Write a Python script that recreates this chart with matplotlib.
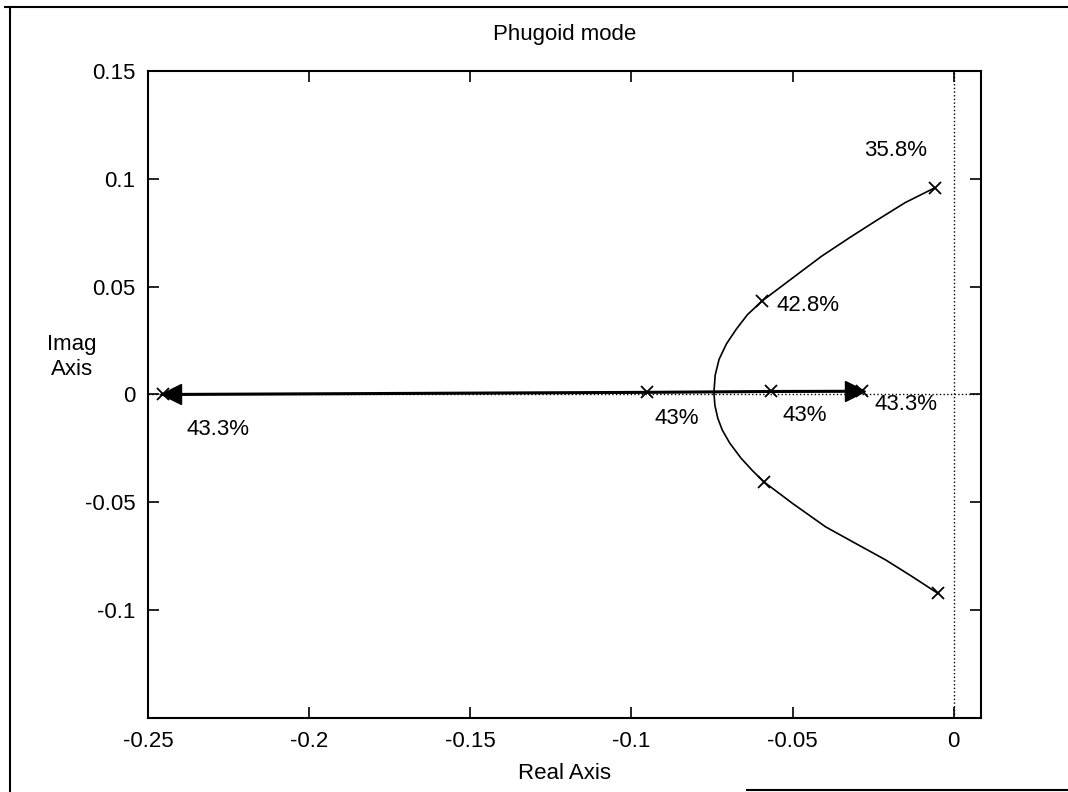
import matplotlib.pyplot as plt
from matplotlib.lines import Line2D

plt.rcParams['font.family'] = ['Liberation Sans', 'DejaVu Sans']

# upper branch of the locus
up_x = [-0.0059, -0.0150, -0.0232, -0.0320, -0.0409, -0.0500, -0.0595, -0.0640,
        -0.0675, -0.0705, -0.0728, -0.0740, -0.0744]
up_y = [0.0958, 0.0890, 0.0814, 0.0730, 0.0642, 0.0540, 0.0433, 0.0370,
        0.0302, 0.0235, 0.0163, 0.0090, 0.0010]
# lower branch
lo_x = [-0.0744, -0.0741, -0.0732, -0.0718, -0.0695, -0.0660, -0.0625, -0.0589,
        -0.0500, -0.0397, -0.0300, -0.0211, -0.0130, -0.0050]
lo_y = [0.0010, -0.0050, -0.0110, -0.0165, -0.0225, -0.0295, -0.0352, -0.0405,
        -0.0505, -0.0614, -0.0694, -0.0767, -0.0843, -0.0921]
# real-axis branch
ra_x = [-0.2454, -0.0951, -0.0567, -0.0285]
ra_y = [0.0000, 0.0010, 0.0014, 0.0015]

# marked poles and their labels
pole_x = [-0.0059, -0.0595, -0.0589, -0.0050, -0.0951, -0.0567, -0.0285, -0.2454]
pole_y = [0.0958, 0.0433, -0.0405, -0.0921, 0.0010, 0.0014, 0.0015, 0.0000]
lab_text = ['35.8%', '42.8%', '43%', '43%', '43.3%', '43.3%']
lab_x = [-0.0180, -0.0551, -0.0859, -0.0462, -0.0245, -0.2380]
lab_y = [0.1130, 0.0414, -0.0112, -0.0098, -0.0047, -0.0163]
lab_ha = ['center', 'left', 'center', 'center', 'left', 'left']

fig = plt.figure(figsize=(10.68, 7.92), dpi=100)
ax = fig.add_axes([0.1386, 0.0934, 0.7800, 0.8170])

ax.axvline(0, color='k', ls=':', lw=1)
ax.axhline(0, color='k', ls=':', lw=1)
ax.plot(up_x, up_y, color='k', lw=1.2)
ax.plot(lo_x, lo_y, color='k', lw=1.2)
ax.plot(ra_x, ra_y, color='k', lw=2.2)
ax.plot(pole_x, pole_y, 'x', color='k', ms=8, mew=1.3)
# direction arrows
ax.plot([-0.0307], [0.0015], '>', color='k', ms=15)
ax.plot([-0.2428], [0.0000], '<', color='k', ms=15)

for t, x, y, ha in zip(lab_text, lab_x, lab_y, lab_ha):
    ax.text(x, y, t, ha=ha, va='center', fontsize=16)

ax.set_xlim(-0.25, 0.0085)
ax.set_ylim(-0.15, 0.15)
ax.set_xticks([-0.25, -0.2, -0.15, -0.1, -0.05, 0])
ax.set_xticklabels(['-0.25', '-0.2', '-0.15', '-0.1', '-0.05', '0'])
ax.set_yticks([-0.1, -0.05, 0, 0.05, 0.1, 0.15])
ax.set_yticklabels(['-0.1', '-0.05', '0', '0.05', '0.1', '0.15'])
ax.tick_params(direction='in', length=8, width=1.2, top=True, right=True,
               labelsize=16, pad=9)
for s in ax.spines.values():
    s.set_linewidth(1.5)

ax.set_title('Phugoid mode', fontsize=16, pad=22)
ax.set_xlabel('Real Axis', fontsize=16, labelpad=8)
fig.text(0.067, 0.549, 'Imag\nAxis', ha='center', va='center', fontsize=16,
         linespacing=1.25)

# scanned page frame
fig.add_artist(Line2D([0.005, 1.0], [0.991, 0.991], color='k', lw=1.5))
fig.add_artist(Line2D([0.0094, 0.0094], [0.0, 0.991], color='k', lw=1.5))
fig.add_artist(Line2D([0.699, 1.0], [0.003, 0.003], color='k', lw=1.5))

fig.savefig('out.png', dpi=100)
